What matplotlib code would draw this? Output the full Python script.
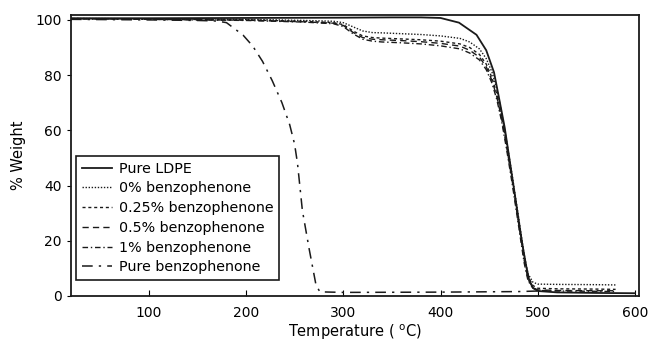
import matplotlib
matplotlib.use("Agg")
import matplotlib.pyplot as plt

# readings from the TGA curves
t_ldpe = [20, 100, 200, 300, 350, 380, 400, 419, 437, 447, 455, 460, 466, 472, 478, 484, 488, 491, 495, 500, 520, 560, 600]
w_ldpe = [100.6, 100.6, 100.7, 100.8, 100.9, 100.9, 100.7, 99.0, 94.6, 89, 81, 72, 61, 47, 33, 19, 11, 6, 3, 1.8, 1.3, 1.1, 1.0]

t_blend = [20, 100, 200, 260, 290, 300, 310, 320, 330, 340, 360, 380, 400, 420, 430, 440, 447, 453, 458, 463, 468, 474, 480, 486, 490, 495, 500, 520, 560, 580]
w_0 = [100.5, 100.4, 100.2, 99.8, 99.5, 99.0, 97.5, 96.0, 95.4, 95.3, 95.0, 94.7, 94.2, 93.3, 92.0, 89.5, 86, 81, 75, 66, 56, 43, 29, 15, 8, 5, 4.3, 4.2, 4.1, 4.0]
w_025 = [100.5, 100.3, 100.0, 99.5, 99.0, 98.3, 96.0, 94.2, 93.6, 93.4, 93.1, 92.8, 92.3, 91.3, 90.0, 87.5, 84, 79, 73, 65, 55, 42, 28, 14, 7, 3.8, 2.8, 2.6, 2.5, 2.4]
w_05 = [100.4, 100.2, 99.9, 99.3, 98.8, 98.0, 95.5, 93.6, 93.0, 92.8, 92.5, 92.1, 91.5, 90.5, 89.0, 86.5, 83, 78, 72, 64, 54, 41, 27, 13, 6, 3, 2.2, 2.0, 1.9, 1.9]
w_1 = [100.4, 100.2, 99.8, 99.2, 98.6, 97.6, 95.0, 93.0, 92.3, 92.0, 91.7, 91.3, 90.6, 89.5, 88.0, 85.5, 82, 77, 71, 63, 53, 40, 26, 12, 5.5, 2.8, 2.0, 1.8, 1.7, 1.6]

t_bp = [20, 100, 150, 170, 180, 197, 207, 217, 227, 237, 245, 250, 253, 258, 265, 272, 276, 300, 400, 480, 500]
w_bp = [100.2, 100.0, 99.8, 99.6, 99.0, 94.5, 90.5, 85, 78, 70, 62, 55, 48, 31, 17, 4, 1.5, 1.3, 1.4, 1.6, 1.8]

labels = ["Pure LDPE", "0% benzophenone", "0.25% benzophenone",
          "0.5% benzophenone", "1% benzophenone", "Pure benzophenone"]

plt.rcParams["font.family"] = "DejaVu Sans"

fig = plt.figure(figsize=(6.5, 3.47), dpi=100)
ax = fig.add_axes([0.109, 0.147, 0.874, 0.81])

k = "#1a1a1a"
ax.plot(t_ldpe, w_ldpe, color=k, lw=1.3, label=labels[0])
ax.plot(t_blend, w_0, color=k, lw=1.0, dashes=(1, 1.2), label=labels[1])
ax.plot(t_blend, w_025, color=k, lw=1.0, dashes=(2.2, 2), label=labels[2])
ax.plot(t_blend, w_05, color=k, lw=1.0, dashes=(4.5, 3), label=labels[3])
ax.plot(t_blend, w_1, color=k, lw=1.0, dashes=(4, 2, 1, 2), label=labels[4])
ax.plot(t_bp, w_bp, color=k, lw=1.1, dashes=(7, 4, 1.5, 4), label=labels[5])

ax.set_xlim(20, 604)
ax.set_ylim(0, 101.8)
ax.set_xticks([100, 200, 300, 400, 500, 600])
ax.set_yticks([0, 20, 40, 60, 80, 100])
ax.tick_params(axis="x", direction="in", length=4, labelsize=10, pad=7)
ax.tick_params(axis="y", direction="out", length=3, labelsize=10)
for s in ax.spines.values():
    s.set_linewidth(1.3)
    s.set_color(k)

ax.set_xlabel("Temperature ( $^\\mathregular{o}$C)", fontsize=10.5, labelpad=2)
ax.set_ylabel("% Weight", fontsize=10.5, labelpad=7)

leg = ax.legend(loc="lower left", bbox_to_anchor=(0.009, 0.057), borderaxespad=0,
                fontsize=10.3, handlelength=2.1, handletextpad=0.5,
                fancybox=False, framealpha=1, edgecolor=k, labelspacing=0.4,
                borderpad=0.4)
leg.get_frame().set_linewidth(1.2)

fig.savefig("out.png", dpi=100)
